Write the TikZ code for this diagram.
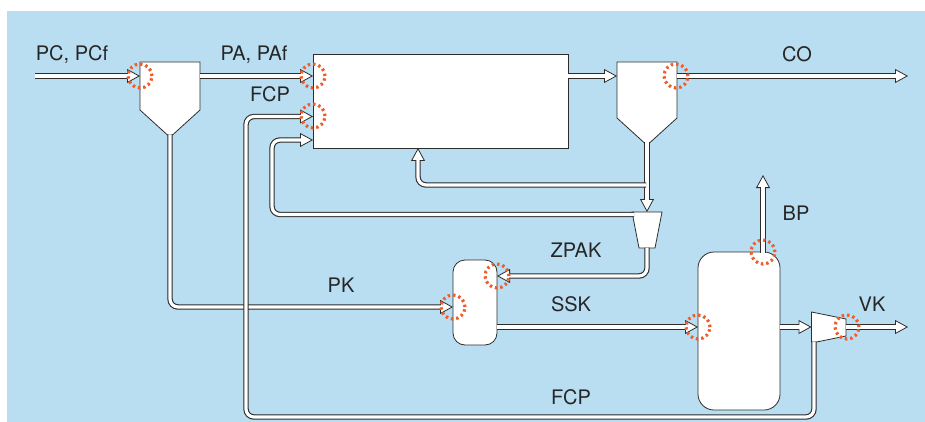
\documentclass[tikz,border=0pt]{standalone}
\usepackage{fontspec}
\setmainfont{TeX Gyre Heros}
\usetikzlibrary{arrows.meta,positioning}
\definecolor{bgblue}{RGB}{185,222,242}
\definecolor{tagred}{RGB}{240,92,40}
\definecolor{linegray}{RGB}{45,45,45}

\begin{document}
\begin{tikzpicture}[
  x=1pt, y=-1pt,
  every node/.style={font=\fontsize{20}{24}\selectfont, text=black!85},
  equip/.style={draw=linegray, line width=0.8pt, fill=white},
  vessel/.style={equip, rounded corners=#1, inner sep=0pt},
  pipe/.style={draw=linegray, line width=5.4pt, rounded corners=8pt,
    -{Triangle[length=13pt,width=14pt,line width=0.8pt,fill=white]},
    postaction={draw=white, line width=3.2pt, arrows=-, shorten >=7pt}},
  sensor/.style={circle, draw=tagred, line width=3.2pt, dash pattern=on 2.4pt off 3pt, minimum size=24pt, inner sep=0pt},
  lbl/.style={anchor=base}
]
\useasboundingbox (0,0) rectangle (925,422);
\fill[white] (0,0) rectangle (925,422);
\fill[bgblue] (7,11) rectangle (925,422);

% units
\node[equip, minimum width=255pt, minimum height=94pt, inner sep=0pt] (reactor) at (440.5,101) {};
\node[vessel=12pt, minimum width=44pt, minimum height=85pt] (ssk) at (475,302.5) {};
\node[vessel=16pt, minimum width=82pt, minimum height=158pt] (boiler) at (739,331) {};
\draw[equip] (140,62) -- (200,62) -- (200,110) -- (172.5,135) -- (167.5,135) -- (140,110) -- cycle;
\draw[equip] (617,62) -- (677,62) -- (677,118) -- (649.5,143) -- (644.5,143) -- (617,118) -- cycle;
\draw[equip] (632,212) -- (662,212) -- (655,248) -- (639,248) -- cycle;
\draw[equip] (811.5,312) -- (846,319) -- (846,336) -- (816.5,342) -- (811.5,342) -- cycle;

% ports
\coordinate (pc-src) at (35,76);
\coordinate (sep1-in) at (140,76);
\coordinate (sep1-gas) at (199.5,76);
\coordinate (sep1-out) at (170,134.5);
\coordinate (r-pa) at (313,76);
\coordinate (r-fcp) at (313,116.5);
\coordinate (r-ret) at (313,140);
\coordinate (r-rec) at (418,148);
\coordinate (r-gas) at (567.5,76);
\coordinate (sep2-in) at (617,76);
\coordinate (sep2-gas) at (676.5,76);
\coordinate (sep2-out) at (647,142.5);
\coordinate (co-end) at (908,76);
\coordinate (zpak-in) at (647,212);
\coordinate (zpak-gas) at (634,214.5);
\coordinate (zpak-out) at (647,247.5);
\coordinate (ssk-zpak) at (497,276);
\coordinate (ssk-pk) at (453,307);
\coordinate (ssk-out) at (496.5,327);
\coordinate (bv-in) at (698,327);
\coordinate (bv-top) at (763,252.5);
\coordinate (bp-end) at (763,175);
\coordinate (bv-out) at (779.5,327);
\coordinate (vk-in) at (811.5,327);
\coordinate (vk-out) at (845.5,327);
\coordinate (vk-end) at (908,327);
\coordinate (vk-fcp) at (814,341.5);

% streams
\draw[pipe] (pc-src) -- (sep1-in);
\draw[pipe] (sep1-gas) -- (r-pa);
\draw[pipe] (r-gas) -- (sep2-in);
\draw[pipe] (sep2-gas) -- (co-end);
\draw[pipe] (sep1-out) |- (ssk-pk);
\draw[pipe] (sep2-out) -- (zpak-in);
\draw[pipe] (646,185) -| (r-rec);
\draw[pipe] (zpak-gas) -- (272,214.5) |- (r-ret);
\draw[pipe] (zpak-out) |- (ssk-zpak);
\draw[pipe] (ssk-out) -- (bv-in);
\draw[pipe] (bv-top) -- (bp-end);
\draw[pipe] (bv-out) -- (vk-in);
\draw[pipe] (vk-out) -- (vk-end);
\draw[pipe] (vk-fcp) |- (246,417) |- (r-fcp);

% measuring points
\node[sensor] (m-pc) at (140,76) {};
\node[sensor] (m-pa) at (313,76) {};
\node[sensor] (m-fcp) at (313,116) {};
\node[sensor] (m-co) at (676,76) {};
\node[sensor] (m-zpak) at (497,276) {};
\node[sensor] (m-pk) at (453,307) {};
\node[sensor] (m-ssk) at (698,327) {};
\node[sensor] (m-bp) at (763,252) {};
\node[sensor] (m-vk) at (847,327) {};

% labels
\node[lbl] (l-pc) at (72,61) {PC, PCf};
\node[lbl] (l-pa) at (254,61) {PA, PAf};
\node[lbl] (l-fcp1) at (270,102) {FCP};
\node[lbl] (l-co) at (797,62) {CO};
\node[lbl] (l-bp) at (796,220) {BP};
\node[lbl] (l-zpak) at (576,257) {ZPAK};
\node[lbl] (l-pk) at (341,292) {PK};
\node[lbl] (l-ssk) at (571,311) {SSK};
\node[lbl] (l-vk) at (872,311) {VK};
\node[lbl] (l-fcp2) at (571,404) {FCP};
\end{tikzpicture}
\end{document}
